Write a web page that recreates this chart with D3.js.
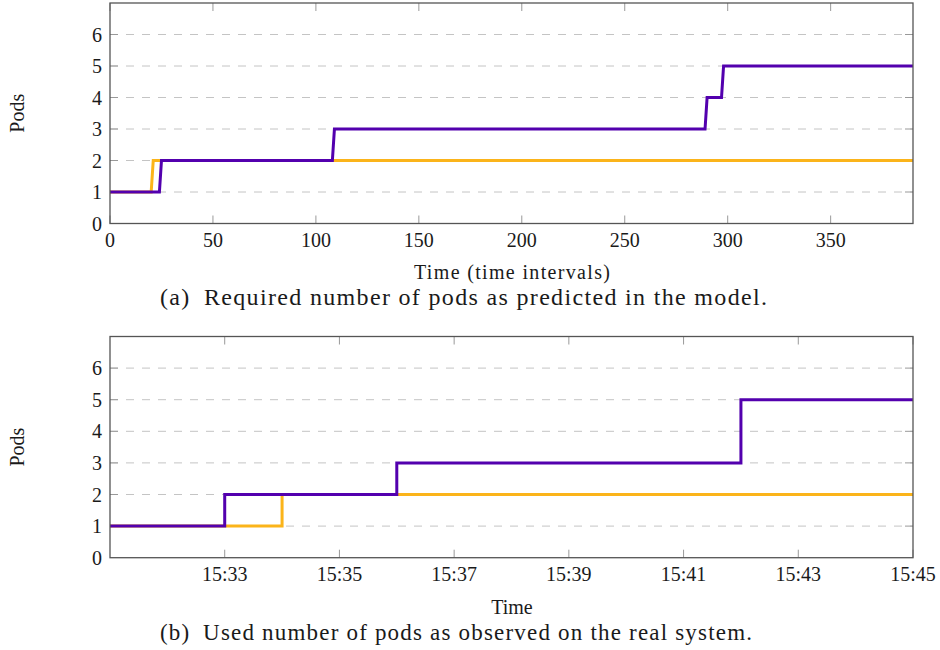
<!DOCTYPE html>
<html>
<head>
<meta charset="utf-8">
<script src="https://cdn.jsdelivr.net/npm/d3@7"></script>
<style>
  body { margin: 0; background: #fff; }
  svg text { font-family: "Liberation Serif", "DejaVu Serif", serif; }
</style>
</head>
<body>
<svg width="940" height="650"></svg>
<script>
// (a) model: time intervals vs required pods
var modelIntervals  = [0, 20, 21, 390];
var modelBaseline   = [1, 1, 2, 2];
var modelIntervalsP = [0, 24, 25, 108, 109, 289, 290, 297, 298, 390];
var modelScaled     = [1, 1, 2, 2, 3, 3, 4, 4, 5, 5];

// (b) real system: clock time vs used pods (step after)
var realTimesO = ["15:31", "15:34", "15:45"];
var realPodsO  = [1, 2, 2];
var realTimesP = ["15:31", "15:33", "15:36", "15:42", "15:45"];
var realPodsP  = [1, 2, 3, 5, 5];

var podTicks = [0, 1, 2, 3, 4, 5, 6];
var intervalTicks = [0, 50, 100, 150, 200, 250, 300, 350];
var timeTicks = ["15:33", "15:35", "15:37", "15:39", "15:41", "15:43", "15:45"];

var orange = "#fbb41a", purple = "#5300ae";

var svg = d3.select("svg");
var parse = d3.timeParse("%H:%M");
var fmt = d3.timeFormat("%H:%M");

function panel(top, bottom, x, xticks, xfmt, xlabel, xlabelDy, xlabelLen, caption, series, curve) {
  var left = 110, right = 913;
  var y = d3.scaleLinear().domain([0, 7]).range([bottom, top]);
  var g = svg.append("g");

  // grid
  g.selectAll("line.grid").data(podTicks.slice(1)).enter().append("line")
      .attr("x1", left).attr("x2", right)
      .attr("y1", function(d) { return y(d); }).attr("y2", function(d) { return y(d); })
      .attr("stroke", "#c4c4c4").attr("stroke-width", 1)
      .attr("stroke-dasharray", "8,8");

  // inward ticks
  var xt = g.append("g").attr("stroke", "#999").attr("stroke-width", 1);
  xticks.forEach(function(t) {
    var px = x(t);
    xt.append("line").attr("x1", px).attr("x2", px).attr("y1", top).attr("y2", top + 8);
    xt.append("line").attr("x1", px).attr("x2", px).attr("y1", bottom).attr("y2", bottom - 8);
  });
  podTicks.slice(1).forEach(function(t) {
    xt.append("line").attr("x1", left).attr("x2", left + 8).attr("y1", y(t)).attr("y2", y(t));
    xt.append("line").attr("x1", right).attr("x2", right - 8).attr("y1", y(t)).attr("y2", y(t));
  });

  // lines
  series.forEach(function(s) {
    var line = d3.line()
        .x(function(d) { return x(d[0]); })
        .y(function(d) { return y(d[1]); })
        .curve(curve);
    g.append("path").datum(s.data)
        .attr("fill", "none").attr("stroke", s.color).attr("stroke-width", 3)
        .attr("stroke-linejoin", "miter")
        .attr("d", line);
  });

  // frame
  g.append("rect").attr("x", left).attr("y", top)
      .attr("width", right - left).attr("height", bottom - top)
      .attr("fill", "none").attr("stroke", "#555").attr("stroke-width", 1.3);

  // tick labels
  g.selectAll("text.yl").data(podTicks).enter().append("text")
      .attr("x", left - 8).attr("y", function(d) { return y(d); })
      .attr("dy", "0.35em").attr("text-anchor", "end")
      .attr("font-size", 20).attr("fill", "#1a1a1a")
      .text(function(d) { return d; });
  g.selectAll("text.xl").data(xticks).enter().append("text")
      .attr("x", function(d) { return x(d); }).attr("y", bottom + 23)
      .attr("text-anchor", "middle")
      .attr("font-size", 20).attr("fill", "#1a1a1a")
      .text(xfmt);

  // axis titles and caption
  g.append("text")
      .attr("transform", "translate(24," + ((top + bottom) / 2) + ") rotate(-90)")
      .attr("text-anchor", "middle").attr("font-size", 20).attr("fill", "#1a1a1a")
      .text("Pods");
  var xl = g.append("text")
      .attr("x", 512).attr("y", bottom + xlabelDy)
      .attr("text-anchor", "middle").attr("font-size", 20).attr("fill", "#1a1a1a")
      .text(xlabel);
  if (xlabelLen) xl.attr("textLength", xlabelLen).attr("lengthAdjust", "spacing");
  g.append("text")
      .attr("x", 160).attr("y", bottom + caption.dy)
      .attr("font-size", caption.size).attr("fill", "#1a1a1a")
      .attr("textLength", caption.len).attr("lengthAdjust", "spacing")
      .text(caption.text);
}

var xa = d3.scaleLinear().domain([0, 390]).range([110, 913]);
panel(3, 223.5, xa, intervalTicks, function(d) { return d; },
  "Time (time intervals)", 55, 196,
  { text: "(a)\u2002Required number of pods as predicted in the model.", len: 607, size: 24, dy: 81 },
  [
    { color: orange, data: modelIntervals.map(function(v, i) { return [v, modelBaseline[i]]; }) },
    { color: purple, data: modelIntervalsP.map(function(v, i) { return [v, modelScaled[i]]; }) }
  ], d3.curveLinear);

var xb = d3.scaleTime().domain([parse("15:31"), parse("15:45")]).range([110, 913]);
panel(336.5, 557.7, xb, timeTicks.map(parse), function(d) { return fmt(d); },
  "Time", 56, null,
  { text: "(b)\u2002Used number of pods as observed on the real system.", len: 592, size: 23, dy: 82 },
  [
    { color: orange, data: realTimesO.map(function(v, i) { return [parse(v), realPodsO[i]]; }) },
    { color: purple, data: realTimesP.map(function(v, i) { return [parse(v), realPodsP[i]]; }) }
  ], d3.curveStepAfter);
</script>
</body>
</html>
